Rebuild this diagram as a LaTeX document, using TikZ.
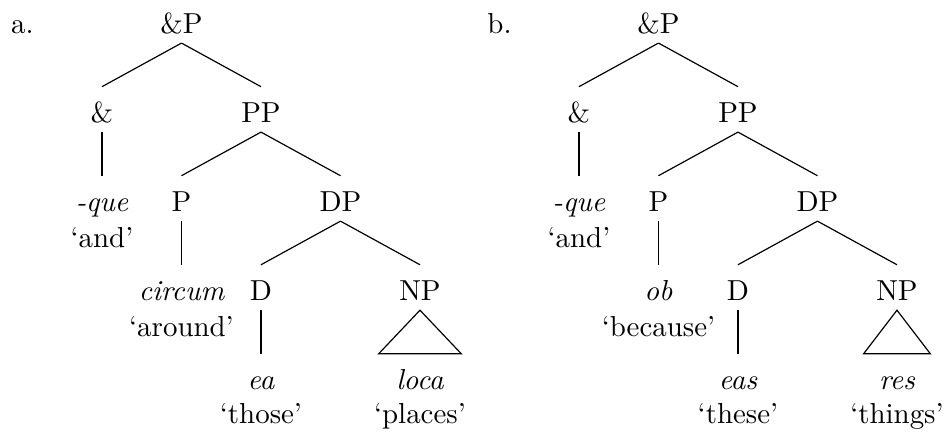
\documentclass[tikz,border=0pt]{standalone}
\usepackage{tikz}
\usetikzlibrary{calc}

\tikzset{
  cat/.style={anchor=base, inner sep=0pt, text height=13.2pt, text depth=3.6pt,
    font=\fontsize{10.95}{13.6}\selectfont},
  word/.style={cat, font=\fontsize{10.95}{13.6}\selectfont\itshape},
  gloss/.style={anchor=base, inner sep=0pt, font=\fontsize{10.95}{13.6}\selectfont},
  branch/.style={line width=0.45pt},
}

\begin{document}
\begin{tikzpicture}[x=1.058cm, y=1.185cm]
\useasboundingbox (-1.283,0.371) rectangle (10.667,-4.517);

% Tree (a): -que circum ea loca
\begin{scope}[shift={(0,0)}]
\node[gloss] (alabel) at (-1,0) {a.};
\node[cat] (aAndP) at (1,0) {\&P};
\node[cat] (aAnd) at (0,-1) {\&};
\node[cat] (aPP) at (2,-1) {PP};
\node[word] (aque) at (0,-2) {-que};
\node[gloss] (aqueG) at (0,-2.404) {`and'};
\node[cat] (aP) at (1,-2) {P};
\node[cat] (aDP) at (3,-2) {DP};
\node[word] (aprep) at (1,-3) {circum};
\node[gloss] (aprepG) at (1,-3.404) {`around'};
\node[cat] (aD) at (2,-3) {D};
\node[cat] (aNP) at (4,-3) {NP};
\node[word] (adet) at (2,-4) {ea};
\node[gloss] (adetG) at (2,-4.39) {`those'};
\node[word] (anoun) at (4,-4) {loca};
\node[gloss] (anounG) at (4,-4.39) {`places'};

\draw[branch] (aAndP.south) -- (aAnd.north);
\draw[branch] (aAndP.south) -- (aPP.north);
\draw[branch] (aAnd.south) -- (aque.north);
\draw[branch] (aPP.south) -- (aP.north);
\draw[branch] (aPP.south) -- (aDP.north);
\draw[branch] (aP.south) -- (aprep.north);
\draw[branch] (aDP.south) -- (aD.north);
\draw[branch] (aDP.south) -- (aNP.north);
\draw[branch] (aD.south) -- (adet.north);
% roof over NP
\draw[branch] (aNP.south) -- ($(anoun.north)+(-0.52,0)$) -- ($(anoun.north)+(0.52,0)$) -- cycle;
\end{scope}

% Tree (b): -que ob eas res
\begin{scope}[shift={(6,0)}]
\node[gloss] (blabel) at (-1,0) {b.};
\node[cat] (bAndP) at (1,0) {\&P};
\node[cat] (bAnd) at (0,-1) {\&};
\node[cat] (bPP) at (2,-1) {PP};
\node[word] (bque) at (0,-2) {-que};
\node[gloss] (bqueG) at (0,-2.404) {`and'};
\node[cat] (bP) at (1,-2) {P};
\node[cat] (bDP) at (3,-2) {DP};
\node[word] (bprep) at (1,-3) {ob};
\node[gloss] (bprepG) at (1,-3.404) {`because'};
\node[cat] (bD) at (2,-3) {D};
\node[cat] (bNP) at (4,-3) {NP};
\node[word] (bdet) at (2,-4) {eas};
\node[gloss] (bdetG) at (2,-4.39) {`these'};
\node[word] (bnoun) at (4,-4) {res};
\node[gloss] (bnounG) at (4,-4.39) {`things'};

\draw[branch] (bAndP.south) -- (bAnd.north);
\draw[branch] (bAndP.south) -- (bPP.north);
\draw[branch] (bAnd.south) -- (bque.north);
\draw[branch] (bPP.south) -- (bP.north);
\draw[branch] (bPP.south) -- (bDP.north);
\draw[branch] (bP.south) -- (bprep.north);
\draw[branch] (bDP.south) -- (bD.north);
\draw[branch] (bDP.south) -- (bNP.north);
\draw[branch] (bD.south) -- (bdet.north);
% roof over NP
\draw[branch] (bNP.south) -- ($(bnoun.north)+(-0.42,0)$) -- ($(bnoun.north)+(0.42,0)$) -- cycle;
\end{scope}
\end{tikzpicture}
\end{document}
